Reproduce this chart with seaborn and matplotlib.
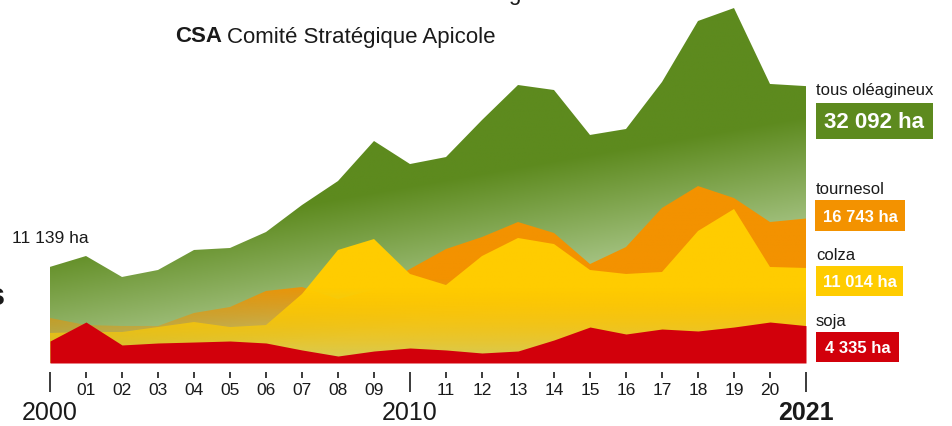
import numpy as np
import pandas as pd
import seaborn as sns
import matplotlib.pyplot as plt
from matplotlib.patches import Rectangle
from matplotlib.colors import to_rgb

# surfaces (ha) par année
years = list(range(2000, 2022))
tous = [11139, 12400, 9970, 10780, 13100, 13330, 15180, 18310, 21090, 25730, 23060,
        23870, 28160, 32220, 31640, 26430, 27120, 32570, 39640, 41140, 32340, 32092]
tournesol = [5220, 4400, 4290, 4290, 5800, 6490, 8350, 8810, 7420, 8500, 10900,
             13210, 14600, 16340, 15070, 11470, 13440, 17970, 20510, 19120, 16340, 16743]
colza = [3480, 3590, 3590, 4170, 4750, 4170, 4400, 8000, 13100, 14370, 10320,
         9040, 12400, 14490, 13790, 10780, 10320, 10550, 15300, 17850, 11130, 11014]
soja = [2550, 4750, 2090, 2320, 2430, 2550, 2320, 1510, 810, 1390, 1740,
        1510, 1160, 1390, 2670, 4170, 3360, 3940, 3710, 4170, 4750, 4335]

small_ticks = [y for y in years if y not in (2000, 2010, 2021)]
small_labels = [str(y)[2:] for y in small_ticks]
big_ticks = [2000, 2010, 2021]
big_labels = ["2000", "2010", "2021"]

df = pd.DataFrame({"annee": years, "tous": tous, "tournesol": tournesol,
                   "colza": colza, "soja": soja})

sns.set_theme(style="white")
plt.rcParams["font.family"] = ["Liberation Sans", "DejaVu Sans"]

W, H = 952, 427
fig = plt.figure(figsize=(W / 100, H / 100), dpi=100)
ax = fig.add_axes([50 / W, (H - 364) / H, 756 / W, 364 / H])
YMAX = 364 * 115.9
ax.set_xlim(2000, 2021)
ax.set_ylim(0, YMAX)

# grille pour les dégradés
gx = np.linspace(2000, 2021, 600)
gv = np.linspace(YMAX, 0, 500)
XX, VV = np.meshgrid(gx, gv)


def layer(values, rgba, z):
    poly = ax.fill_between(df["annee"], 0, values, facecolor="none",
                           edgecolor="none", zorder=z)
    im = ax.imshow(rgba, extent=[2000, 2021, 0, YMAX], aspect="auto",
                   interpolation="bilinear", zorder=z)
    im.set_clip_path(poly.get_paths()[0], ax.transData)


# vert : foncé en haut, s'éclaircit vers le bas (limite inclinée)
dark = np.array(to_rgb("#5d8a1e"))
light = np.array(to_rgb("#b7d19c"))
bound = 13213 + 730 * (XX - 2000)
t = np.clip((bound - VV) / 16226, 0, 1)[..., None]
green = np.concatenate([dark + t * (light - dark), np.ones_like(t)], axis=2)
layer(df["tous"], green, 1)


def solid(color, alpha):
    rgb = np.ones(XX.shape + (3,)) * np.array(to_rgb(color))
    return np.concatenate([rgb, alpha[..., None]], axis=2)


layer(df["tournesol"], solid("#f39200", np.clip((VV + 300) / 10000, 0, 1)), 2)
layer(df["colza"], solid("#ffcc00", np.clip(0.38 + 0.62 * VV / 8577, 0, 1)), 3)
ax.fill_between(df["annee"], 0, df["soja"], color="#d2000b", lw=0, zorder=4)

ax.set_xlim(2000, 2021)
ax.set_ylim(0, YMAX)
ax.set_yticks([])
sns.despine(ax=ax, left=True, bottom=True)
for s in ax.spines.values():
    s.set_visible(False)
ax.spines["bottom"].set_position(("outward", 6.5))

ink = "#1a1a1a"
ax.set_xticks(small_ticks, small_labels)
ax.set_xticks(big_ticks, big_labels, minor=True)
ax.tick_params(axis="x", which="major", length=4.5, width=1.2, color=ink,
               labelsize=12.5, pad=3, labelcolor=ink, direction="out", bottom=True)
ax.tick_params(axis="x", which="minor", length=14.5, width=1.2, color=ink,
               labelsize=18, pad=6, labelcolor=ink, direction="out", bottom=True)
ax.get_xticklabels(minor=True)[-1].set_fontweight("bold")


def px(x, y):
    return x / W, 1 - y / H


r = fig.canvas.get_renderer()
csa = fig.text(*px(175, 37), "CSA", fontsize=16, fontweight="bold", color=ink, va="center")
x_end = csa.get_window_extent(r).x1
fig.text(*px(x_end + 5, 37), "Comité Stratégique Apicole", fontsize=16, color=ink, va="center")
fig.text(*px(508, 0), "g", fontsize=16, color=ink, va="baseline")
fig.text(*px(5, 305), "s", fontsize=22, fontweight="bold", color=ink,
         ha="right", va="baseline")
fig.text(*px(12, 239), "11 139 ha", fontsize=12.5, color=ink, va="center")

labels = [
    ("tous oléagineux", 90, "32 092 ha", "#5d8a1e", (816, 104, 117, 36), 16),
    ("tournesol", 189, "16 743 ha", "#f39200", (815, 201, 90, 31), 12),
    ("colza", 255, "11 014 ha", "#ffcc00", (816, 267, 87, 30), 12),
    ("soja", 322, "4 335 ha", "#d2000b", (816, 333, 83, 30), 12),
]
for name, ty, val, col, (bx, by, bw, bh), fs in labels:
    fig.text(*px(816, ty), name, fontsize=12, color=ink, va="center")
    fig.add_artist(Rectangle(px(bx, by + bh), bw / W, bh / H, transform=fig.transFigure,
                             facecolor=col, edgecolor="none"))
    fig.text(*px(bx + bw / 2, by + bh / 2 + 1), val, fontsize=fs, fontweight="bold",
             color="white", ha="center", va="center")

fig.savefig("out.png", dpi=100)
